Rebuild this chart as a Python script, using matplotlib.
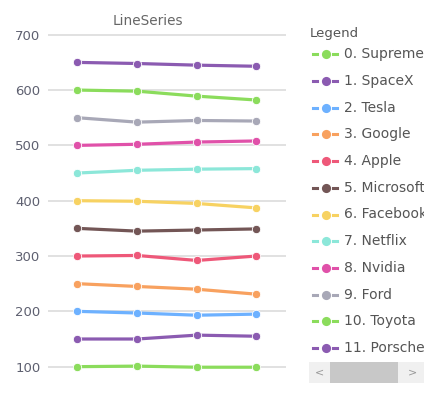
import matplotlib
matplotlib.use("Agg")
import matplotlib.pyplot as plt
from matplotlib.lines import Line2D
from matplotlib.patches import Rectangle

names = ["Supreme", "SpaceX", "Tesla", "Google", "Apple", "Microsoft",
         "Facebook", "Netflix", "Nvidia", "Ford", "Toyota", "Porsche"]
values = [
    [100, 101, 99, 99],
    [150, 150, 157, 155],
    [200, 197, 193, 195],
    [250, 245, 240, 231],
    [300, 301, 292, 300],
    [350, 345, 347, 349],
    [400, 399, 395, 387],
    [450, 455, 457, 458],
    [500, 502, 506, 508],
    [550, 542, 545, 544],
    [600, 598, 589, 582],
    [650, 648, 645, 643],
]
colors = ["#8bdc5c", "#8b5bb1", "#6db1ff", "#f8a15f", "#ee5879", "#735656",
          "#f7d262", "#8ce7d9", "#e051a9", "#a8a8b7", "#8bdc5c", "#8b5bb1"]
yticks = [100, 200, 300, 400, 500, 600, 700]

W, H = 441, 396
fig = plt.figure(figsize=(W / 100, H / 100), dpi=100)

def fx(x):
    return x / W

def fy(y):
    return 1 - y / H

# main axes
left, right, top, bottom = 47.5, 286.3, 29.2, 372.2
ax = fig.add_axes([fx(left), fy(bottom), fx(right) - fx(left), fy(top) - fy(bottom)])
ax.set_xlim(-0.5, 3.5)
ax.set_ylim(90, 710)
for s in ax.spines.values():
    s.set_visible(False)
ax.set_xticks([])
ax.set_yticks(yticks)
ax.tick_params(axis="y", length=0, pad=5, labelsize=9.5, labelcolor="#5e6070")
ax.grid(axis="y", color="#dedede", linewidth=1.3)
ax.set_axisbelow(True)

for vals, c in zip(values, colors):
    ax.plot(range(len(vals)), vals, color=c, linewidth=2.3, marker="o",
            markersize=6, markerfacecolor=c, markeredgecolor="white",
            markeredgewidth=0.6, clip_on=False, zorder=3)

fig.text(fx(148), fy(21), "LineSeries", ha="center", va="center",
         fontsize=9.8, color="#666666")

# legend area
lx0, lx1, ly0, ly1 = 300, 424, 20, 358
lax = fig.add_axes([fx(lx0), fy(ly1), fx(lx1) - fx(lx0), fy(ly0) - fy(ly1)])
lax.set_xlim(lx0, lx1)
lax.set_ylim(ly1, ly0)
lax.axis("off")

lax.text(309.5, 33.5, "Legend", ha="left", va="center", fontsize=9.6,
         color="#555555", clip_on=True)
for i, (n, c) in enumerate(zip(names, colors)):
    yc = 54.3 + i * 26.7
    lax.add_line(Line2D([313.3, 317.3], [yc, yc], color=c, linewidth=2.2))
    lax.add_line(Line2D([332.7, 336.7], [yc, yc], color=c, linewidth=2.2))
    lax.add_line(Line2D([325.5], [yc], color=c, marker="o", markersize=6.6,
                        markeredgewidth=0, linestyle="none"))
    lax.text(344.3, yc, f"{i}. {n}", ha="left", va="center", fontsize=10,
             color="#555555", clip_on=True)

# scrollbar
sax = fig.add_axes([fx(309), fy(383), fx(424) - fx(309), fy(362) - fy(383)])
sax.set_xlim(309, 424)
sax.set_ylim(383, 362)
sax.axis("off")
sax.add_patch(Rectangle((309, 362), 115, 21, facecolor="#f0f0f0", edgecolor="none"))
sax.add_patch(Rectangle((330, 362), 68, 21, facecolor="#c8c8c8", edgecolor="none"))
sax.text(319.5, 372.5, "<", ha="center", va="center", fontsize=8, color="#999999")
sax.text(412.5, 372.5, ">", ha="center", va="center", fontsize=8, color="#999999")

fig.savefig("out.png", dpi=100)
